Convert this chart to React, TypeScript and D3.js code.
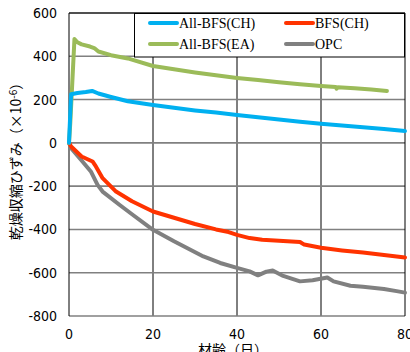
import React from "react";
import * as d3 from "d3";

type P = [number, number];

const xTicks = [0, 20, 40, 60, 80];
const yTicks = [-800, -600, -400, -200, 0, 200, 400, 600];

const allBfsCH: P[] = [[0,0],[0.5,225],[2,230],[4,235],[5.5,240],[7,228],[10,212],[14,192],[20,175],[25,162],[30,150],[35,140],[40,129],[45,118],[50,108],[55,98],[60,88],[65,80],[70,72],[75,64],[80,55]];
const bfsCH: P[] = [[0,0],[0.5,-17],[3,-63],[5.6,-86],[6.4,-109],[8,-163],[11.2,-225],[15,-270],[20,-317],[25,-346],[30,-375],[35,-400],[38,-412],[40,-425],[43,-440],[46,-448],[50,-452],[55,-458],[56,-470],[60,-485],[65,-497],[70,-507],[75,-518],[80,-530]];
const allBfsEA: P[] = [[0,0],[0.3,90],[1.3,480],[2,465],[3,455],[5,445],[6,438],[7,422],[10,405],[14,390],[20,355],[25,340],[30,325],[35,312],[40,300],[45,290],[50,280],[55,271],[60,263],[63.5,258],[63.7,250],[64,257],[68,252],[72,246],[75.7,240]];
const opc: P[] = [[0,0],[0.5,-25],[3.2,-86],[5.2,-132],[6.8,-194],[8,-225],[12,-286],[15,-330],[20,-402],[25,-455],[32,-525],[36,-555],[40,-578],[43,-594],[45,-612],[47,-595],[48.5,-590],[51,-615],[55,-640],[58,-635],[61.5,-622],[63,-640],[67,-660],[70,-665],[75,-675],[78,-685],[80,-692]];

const seriesNames = ["All-BFS(CH)", "BFS(CH)", "All-BFS(EA)", "OPC"];
const seriesColors = ["#00B0F0", "#FF3300", "#9BBB59", "#808080"];
const seriesData = [allBfsCH, bfsCH, allBfsEA, opc];

export default function App() {
  const W = 410, H = 352;
  const L = 69, R = 405, T = 13, B = 316;
  const x = d3.scaleLinear().domain([0, 80]).range([L, R]);
  const y = d3.scaleLinear().domain([-800, 600]).range([B, T]);
  const line = d3.line<P>().x(d => x(d[0])).y(d => y(d[1]));
  const tickFont = "'Liberation Sans Narrow', 'DejaVu Sans Condensed', sans-serif";
  const drawOrder = [3, 1, 2, 0];
  return (
    <svg width={W} height={H} style={{ position: "absolute", left: 0, top: 0, background: "#fff" }}>
      <rect x={0} y={0} width={W} height={H} fill="#fff" />
      {xTicks.slice(1, -1).map(t => (
        <line key={"vx" + t} x1={x(t)} x2={x(t)} y1={T} y2={B} stroke="#000" strokeWidth={1} />
      ))}
      {yTicks.map(t => (
        <line key={"hy" + t} x1={L} x2={R} y1={y(t)} y2={y(t)} stroke="#808080" strokeWidth={1.6} />
      ))}
      <line x1={L} x2={L} y1={T} y2={B} stroke="#000" strokeWidth={1} />
      <line x1={R} x2={R} y1={T} y2={B} stroke="#000" strokeWidth={1} />
      <line x1={L} x2={R} y1={T} y2={T} stroke="#000" strokeWidth={1} />
      {drawOrder.map(i => (
        <path key={seriesNames[i]} d={line(seriesData[i]) || ""} fill="none" stroke={seriesColors[i]} strokeWidth={4} strokeLinejoin="round" strokeLinecap="round" />
      ))}
      <rect x={134.5} y={13.5} width={270} height={43.5} fill="#fff" stroke="#000" strokeWidth={1} />
      {seriesNames.map((n, i) => {
        const col = i % 2, row = Math.floor(i / 2);
        const lx = 150 + col * 136, ly = 23 + row * 21;
        return (
          <g key={"lg" + n}>
            <line x1={lx} x2={lx + 27} y1={ly} y2={ly} stroke={seriesColors[i]} strokeWidth={4} strokeLinecap="round" />
            <text x={lx + 29} y={ly + 5} fontFamily="'Liberation Serif', serif" fontSize={14} fill="#000">{n}</text>
          </g>
        );
      })}
      {yTicks.map(t => (
        <text key={"yt" + t} x={57} y={y(t) + 5} textAnchor="end" fontFamily={tickFont} fontSize={14} fill="#000">{t}</text>
      ))}
      {xTicks.map(t => (
        <text key={"xt" + t} x={x(t)} y={339} textAnchor="middle" fontFamily={tickFont} fontSize={14} fill="#000">{t}</text>
      ))}
      <text transform={`translate(21,158) rotate(-90)`} textAnchor="middle" fontFamily="'Noto Sans CJK JP', sans-serif" fontSize={14} fill="#000">
        乾燥収縮ひずみ（×10<tspan dy={-4} fontSize={10}>-6</tspan><tspan dy={4}>）</tspan>
      </text>
      <text x={233} y={355} textAnchor="middle" fontFamily="'Noto Sans CJK JP', sans-serif" fontSize={14} fill="#000">材齢（日）</text>
    </svg>
  );
}
